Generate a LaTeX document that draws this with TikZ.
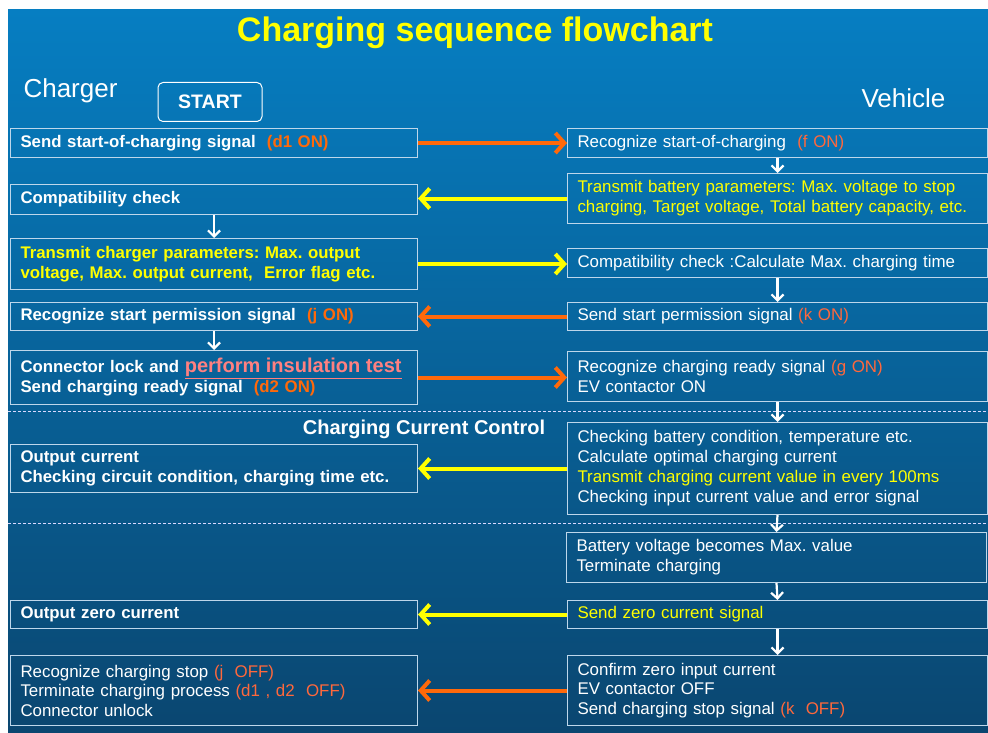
\documentclass[tikz,border=0pt]{standalone}
\usepackage{fontspec}
\setmainfont{Liberation Sans}
\usetikzlibrary{arrows.meta}
\frenchspacing

\definecolor{bgtop}{RGB}{6,126,194}
\definecolor{bgmid}{RGB}{12,104,164}
\definecolor{bgbot}{RGB}{10,70,112}
\definecolor{boxline}{RGB}{190,215,235}
\definecolor{sigorange}{RGB}{255,105,10}
\definecolor{sigred}{RGB}{255,104,60}
\definecolor{sigyellow}{RGB}{255,255,0}
\definecolor{testpink}{RGB}{255,128,128}

\tikzset{
    lbox/.style={draw=boxline, line width=1pt, anchor=north west, text=white,
        minimum width=407pt, text width=387pt, inner xsep=10pt, inner ysep=0pt,
        align=left, font=\bfseries\fontsize{16.8}{20}\selectfont},
    rbox/.style={lbox, minimum width=420pt, text width=400pt,
        font=\fontsize{16.9}{20}\selectfont},
    oarrow/.style={draw=sigorange, line width=4pt,
        -{Straight Barb[length=9pt, width=20pt]}},
    yarrow/.style={oarrow, draw=sigyellow},
    warrow/.style={draw=white, line width=2.2pt,
        -{Straight Barb[length=6pt, width=12pt]}},
    sepline/.style={draw=white!85!blue, line width=1pt, dash pattern=on 3pt off 2pt}
}

\begin{document}
\begin{tikzpicture}[x=1pt, y=-1pt]
            \useasboundingbox (0,0) rectangle (988,733);
            \fill [white] (0,0) rectangle (988,733);
            \shade [top color=bgtop, middle color=bgmid, bottom color=bgbot]
                (8,10) rectangle (988,733);
            \node[text=sigyellow, font=\bfseries\fontsize{34}{38}\selectfont]
                (title) at (475,33) {Charging sequence flowchart};
            \node[anchor=west, text=white, font=\fontsize{26}{28}\selectfont]
                (charger) at (20,91) {Charger};
            \node[anchor=west, text=white, font=\fontsize{26}{28}\selectfont]
                (vehicle) at (858,98) {Vehicle};
            \node[draw=white, line width=1pt, rounded corners=5pt, text=white,
                minimum width=104pt, minimum height=39pt,
                font=\bfseries\fontsize{19.5}{22}\selectfont] (start) at (210,102) {START};

            % charger side
            \node[lbox, minimum height=29pt] (l1) at (10,128)
                {Send start-of-charging signal \ \textcolor{sigorange}{(d1 ON)}};
            \node[lbox, minimum height=30pt] (l2) at (10,184) {Compatibility check};
            \node[lbox, minimum height=51pt, text=sigyellow] (l3) at (10,238)
                {Transmit charger parameters: Max. output\\voltage, Max. output current, \ Error flag etc.};
            \node[lbox, minimum height=28pt] (l4) at (10,302)
                {Recognize start permission signal \ \textcolor{sigorange}{(j ON)}};
            \node[lbox, minimum height=54pt] (l5) at (10,350)
                {Connector lock and {\color{testpink}\fontsize{20}{21}\selectfont\underline{perform insulation test}}\\Send charging ready signal \ \textcolor{sigorange}{(d2 ON)}};
            \node[lbox, minimum height=48pt] (l6) at (10,444)
                {Output current\\Checking circuit condition, charging time etc.};
            \node[lbox, minimum height=28pt] (l7) at (10,600) {Output zero current};
            \node[lbox, minimum height=70pt, font=\fontsize{16.9}{19.5}\selectfont] (l8) at (10,655)
                {Recognize charging stop \textcolor{sigred}{(j \ OFF)}\\Terminate charging process \textcolor{sigred}{(d1 , d2 \ OFF)}\\Connector unlock};

            % vehicle side
            \node[rbox, minimum height=29pt] (r1) at (567,128)
                {Recognize start-of-charging \ \textcolor{sigred}{(f ON)}};
            \node[rbox, minimum height=50pt, text=sigyellow] (r2) at (567,173)
                {Transmit battery parameters: Max. voltage to stop\\charging, Target voltage, Total battery capacity, etc.};
            \node[rbox, minimum height=29pt] (r3) at (567,248)
                {Compatibility check :Calculate Max. charging time};
            \node[rbox, minimum height=28pt] (r4) at (567,302)
                {Send start permission signal \textcolor{sigred}{(k ON)}};
            \node[rbox, minimum height=50pt] (r5) at (567,351)
                {Recognize charging ready signal \textcolor{sigred}{(g ON)}\\EV contactor ON};
            \node[rbox, minimum height=92pt] (r6) at (567,422)
                {Checking battery condition, temperature etc.\\Calculate optimal charging current\\\textcolor{sigyellow}{Transmit charging current value in every 100ms}\\Checking input current value and error signal};
            \node[rbox, minimum height=50pt] (r7) at (566,532)
                {Battery voltage becomes Max. value\\Terminate charging};
            \node[rbox, minimum height=28pt, text=sigyellow] (r8) at (567,600)
                {Send zero current signal};
            \node[rbox, minimum height=70pt, font=\fontsize{16.9}{19.5}\selectfont] (r9) at (567,655)
                {Confirm zero input current\\EV contactor OFF\\Send charging stop signal \textcolor{sigred}{(k \ OFF)}};

            % phases
            \draw [sepline] (8,411) -- (988,411);
            \draw [sepline] (8,523) -- (988,523);
            \node[text=white, font=\bfseries\fontsize{20}{22}\selectfont]
                (ccc) at (424,429) {Charging Current Control};

            % signals
            \draw [oarrow] (l1.east) -- (l1.east -| r1.west);
            \draw [yarrow] (r2.west) -- (r2.west -| l2.east);
            \draw [yarrow] (l3.east) -- (l3.east -| r3.west);
            \draw [oarrow] (r4.west) -- (r4.west -| l4.east);
            \draw [oarrow] (l5.east) -- (l5.east -| r5.west);
            \draw [yarrow] (r6.west) -- (r6.west -| l6.east);
            \draw [yarrow] (r8.west) -- (r8.west -| l7.east);
            \draw [oarrow] (r9.west) -- (r9.west -| l8.east);

            % steps
            \draw [warrow] (l2.south) -- (l3.north);
            \draw [warrow] (l4.south) -- (l5.north);
            \draw [warrow] (r1.south) -- (r2.north);
            \draw [warrow] (r3.south) -- (r4.north);
            \draw [warrow] (r5.south) -- (r6.north);
            \draw [warrow] (r6.south) -- (r7.north);
            \draw [warrow] (r7.south) -- (r8.north);
            \draw [warrow] (r8.south) -- (r9.north);
        \end{tikzpicture}
\end{document}
